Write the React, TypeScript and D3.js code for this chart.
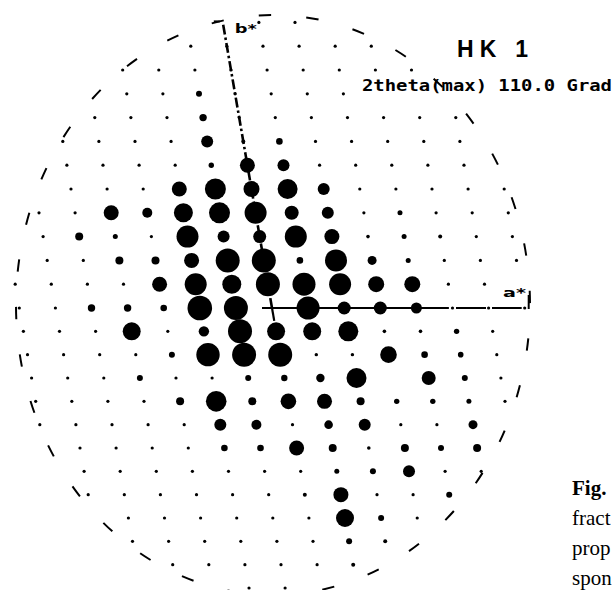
import React, { useEffect, useRef } from "react";
import * as d3 from "d3";

// reciprocal lattice layer hk1: one entry per row, top (k = 12) to bottom (k = -12)
const rowK = [12, 11, 10, 9, 8, 7, 6, 5, 4, 3, 2, 1, 0, -1, -2, -3, -4, -5, -6, -7, -8, -9, -10, -11, -12];

// h index of the first spot in each row
const rowStartH = [1, -1, -3, -3, -4, -5, -5, -5, -6, -6, -6, -7, -7, -7, -7, -7, -7, -7, -6, -6, -6, -5, -5, -4, -2];

// |F| of each spot, read left to right (0 = no spot drawn)
const rowF = [
  [1.6, 1.6],
  [1.6, 1.6, 1.6, 1.6, 1.6, 1.6],
  [1.6, 1.6, 1.6, 1.6, 1.6, 1.6, 1.6, 1.6, 1.6],
  [1.6, 1.6, 3, 1.6, 1.6, 1.6, 1.6],
  [1.6, 1.6, 1.6, 3.7, 1.6, 1.6, 1.6, 1.6, 1.6, 1.6, 1.6],
  [1.6, 1.6, 1.6, 1.6, 6, 2, 3.3, 1.6, 1.6, 1.6, 1.6, 1.6],
  [1.6, 1.6, 1.6, 1.6, 2.7, 7.5, 6, 1.6, 1.6, 1.6, 1.6, 1.6],
  [1.6, 1.6, 1.6, 7.5, 10.5, 8, 10, 6, 1.6, 1.6, 1.6, 1.6, 1.6],
  [1.6, 1.6, 7.5, 5, 9.5, 10.5, 11, 7, 6, 1.6, 2.5, 1.6, 1.6, 1.6],
  [1.6, 4, 2.5, 1.6, 11, 6, 6.5, 11, 7.5, 1.8, 2.5, 2, 1.6, 1.6],
  [1.6, 1.6, 4, 4, 7.5, 12, 12, 3.3, 11, 4.5, 2.5, 1.6, 1.6, 1.6],
  [1.6, 1.6, 1.6, 1.6, 7.5, 11, 9.5, 12, 11.5, 11, 8, 8, 1.6, 1.6],
  [1.6, 1.6, 3.7, 3.7, 3.3, 12.3, 12, 0, 11.5, 6.5, 6.5, 5.5, 1.6, 1.6, 1.6],
  [1.6, 1.6, 1.6, 9, 1.6, 5.2, 12, 9, 9, 10, 1.8, 1.8, 2.7, 1.6],
  [1.6, 1.6, 1.6, 1.6, 3, 11.7, 12, 12, 1.7, 1.7, 8.3, 3.3, 2.8, 1.6],
  [1.6, 1.6, 1.6, 3, 1.6, 1.6, 3, 3.2, 4.2, 10, 0, 7, 3, 1.6],
  [1.6, 1.6, 1.6, 1.6, 4, 10.3, 4, 7.8, 7.5, 4, 2.7, 2.7, 2.5, 1.6],
  [1.6, 1.6, 1.6, 1.6, 1.6, 6, 5, 1.6, 4.3, 6, 1.6, 1.6, 4.5],
  [1.6, 1.6, 1.6, 1.6, 3.3, 3.3, 7.5, 4, 1.8, 4, 3, 4],
  [1.6, 1.6, 1.6, 1.6, 1.6, 1.6, 1.6, 2.5, 3, 6, 1.6, 1.6],
  [1.6, 1.6, 1.6, 1.6, 1.6, 1.6, 2, 7.5, 1.6, 1.6, 3],
  [1.6, 1.6, 1.6, 1.6, 1.6, 1.6, 9, 3, 1.6],
  [1.6, 1.6, 1.6, 1.6, 1.6, 1.6, 3, 2],
  [1.6, 1.6, 1.6, 1.6, 1.6, 2],
  [1.6, 1.6]
];

const title = "HK 1";
const subtitle = "2theta(max) 110.0 Grad";
const captionLines = ["fract", "prop", "spon"];

// b* leans left against a* by this fraction of an a* step per row
const SKEW = 0.1136;

export default function App() {
  const svgRef = useRef<SVGSVGElement>(null);

  useEffect(() => {
    const el = svgRef.current;
    if (!el) return;
    const svg = d3.select(el);
    svg.selectAll("*").remove();

    const x = d3.scaleLinear().domain([0, 1]).range([272, 308.1]);
    const y = d3.scaleLinear().domain([-12, 0, 12]).range([588, 308, 22.4]);
    const r = d3.scaleLinear().domain([0, 12]).range([0, 12]);
    const px = (h: number, k: number) => x(h - k * SKEW);

    const spots = rowK.flatMap((k, i) =>
      rowF[i].map((f, j) => ({ h: rowStartH[i] + j, k, f }))
    ).filter((d) => d.f > 0);

    // 2theta limit
    svg
      .append("ellipse")
      .attr("cx", 273)
      .attr("cy", 305)
      .attr("rx", 257)
      .attr("ry", 290)
      .attr("fill", "none")
      .attr("stroke", "#000")
      .attr("stroke-width", 2)
      .attr("pathLength", 360)
      .attr("stroke-dasharray", "2.6 7.4")
      .attr("stroke-dashoffset", 3);

    const axes = svg.append("g").attr("stroke", "#000").attr("fill", "none");
    const ox = px(0, 0);
    const oy = y(0);
    const bx = px(0, 12);
    const by = y(12);

    // b* axis
    axes
      .append("line")
      .attr("x1", ox)
      .attr("y1", oy)
      .attr("x2", bx)
      .attr("y2", by)
      .attr("stroke-width", 2.6)
      .attr("stroke-dasharray", "10 3 2.5 3");
    axes
      .append("line")
      .attr("x1", ox)
      .attr("y1", oy)
      .attr("x2", px(0, -0.55))
      .attr("y2", y(-0.55))
      .attr("stroke-width", 2.2);
    axes
      .append("line")
      .attr("x1", bx - 9)
      .attr("y1", by - 1)
      .attr("x2", bx - 3)
      .attr("y2", by - 1)
      .attr("stroke-width", 2);

    // a* axis
    axes
      .append("line")
      .attr("x1", ox - 10)
      .attr("y1", oy)
      .attr("x2", x(4.9))
      .attr("y2", oy)
      .attr("stroke-width", 2.2);
    axes
      .append("line")
      .attr("x1", x(5) + 3.5)
      .attr("y1", oy)
      .attr("x2", x(7) - 3)
      .attr("y2", oy)
      .attr("stroke-width", 2)
      .attr("stroke-dasharray", "30 6");
    axes
      .append("line")
      .attr("x1", x(7) + 4)
      .attr("y1", oy + 1)
      .attr("x2", x(7) + 4)
      .attr("y2", oy - 13)
      .attr("stroke-width", 2);

    svg
      .append("g")
      .selectAll("circle")
      .data(spots)
      .join("circle")
      .attr("cx", (d) => px(d.h, d.k))
      .attr("cy", (d) => y(d.k))
      .attr("r", (d) => r(d.f))
      .attr("fill", "#000");

    const labels = svg.append("g").attr("fill", "#000");
    labels
      .append("text")
      .attr("x", bx + 12)
      .attr("y", by + 10.5)
      .attr("font-family", "DejaVu Sans")
      .attr("font-weight", "bold")
      .attr("font-size", 13)
      .attr("textLength", 22)
      .attr("lengthAdjust", "spacingAndGlyphs")
      .text("b*");
    labels
      .append("text")
      .attr("x", 503)
      .attr("y", 297)
      .attr("font-family", "DejaVu Sans")
      .attr("font-weight", "bold")
      .attr("font-size", 13)
      .attr("textLength", 23)
      .attr("lengthAdjust", "spacingAndGlyphs")
      .text("a*");
    labels
      .append("text")
      .attr("x", 457)
      .attr("y", 57)
      .attr("font-family", "Liberation Sans")
      .attr("font-weight", "bold")
      .attr("font-size", 23)
      .attr("textLength", 71)
      .attr("lengthAdjust", "spacing")
      .text(title);
    labels
      .append("text")
      .attr("x", 362)
      .attr("y", 91)
      .attr("font-family", "DejaVu Sans Mono")
      .attr("font-weight", "bold")
      .attr("font-size", 15.5)
      .attr("textLength", 250)
      .attr("lengthAdjust", "spacingAndGlyphs")
      .text(subtitle);

    const caption = svg
      .append("g")
      .attr("font-family", "Liberation Serif")
      .attr("font-size", 21)
      .attr("fill", "#000");
    caption
      .append("text")
      .attr("x", 572)
      .attr("y", 495)
      .attr("font-weight", "bold")
      .text("Fig.");
    caption
      .selectAll("text.line")
      .data(captionLines)
      .join("text")
      .attr("class", "line")
      .attr("x", 572)
      .attr("y", (_, i) => 525 + i * 30)
      .text((d) => d);
  }, []);

  return (
    <div style={{ position: "absolute", left: 0, top: 0, background: "#fff" }}>
      <svg ref={svgRef} width={614} height={590} style={{ display: "block" }} />
    </div>
  );
}
